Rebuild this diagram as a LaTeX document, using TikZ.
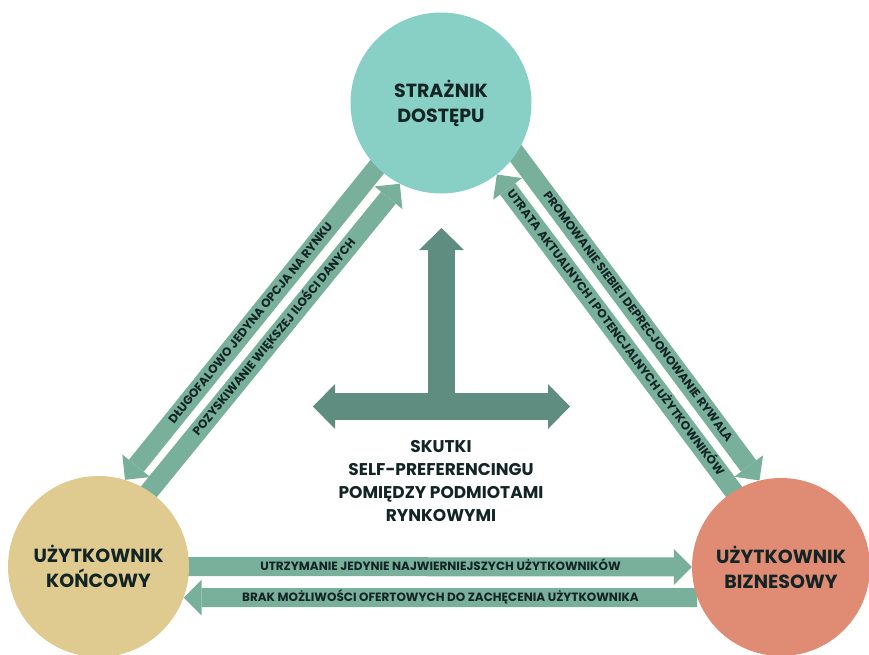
\documentclass[tikz,border=0pt]{standalone}
\usepackage{fontspec}
\setmainfont{Poppins}
\usetikzlibrary{arrows.meta,backgrounds}

\definecolor{gatecol}{HTML}{88CFC6}
\definecolor{endcol}{HTML}{DFCB8F}
\definecolor{bizcol}{HTML}{E08B74}
\definecolor{flowcol}{HTML}{78B09B}
\definecolor{hubcol}{HTML}{5F8D80}
\definecolor{inkcol}{HTML}{132424}

\tikzset{
  party/.style={circle, inner sep=0pt, align=center, text=inkcol,
    font=\fontsize{19}{25}\selectfont\bfseries},
  flowtip/.tip={Triangle[width=36pt,length=18pt,line width=0pt]},
  flow/.style={draw=flowcol, line width=19pt, -flowtip},
  flowtext/.style={sloped, text=inkcol, inner sep=0pt, text height=.7em, text depth=0pt,
    font=\fontsize{12}{12}\selectfont\bfseries},
  hubtip/.tip={Triangle[width=45pt,length=22pt,line width=0pt]},
  hub/.style={draw=hubcol, line width=27pt},
  hubtext/.style={align=center, text=inkcol, font=\fontsize{17}{23}\selectfont\bfseries}
}

\begin{document}
\begin{tikzpicture}[x=1pt,y=-1pt]
\useasboundingbox (0,0) rectangle (869,654);

% the three market parties
\node[party, fill=gatecol, minimum size=181pt] (gate) at (441,103) {STRAŻNIK\\DOSTĘPU};
\node[party, fill=endcol, minimum size=181pt] (endu) at (98.5,566.5) {UŻYTKOWNIK\\KOŃCOWY};
\node[party, fill=bizcol, minimum size=178pt] (biz) at (781,567) {UŻYTKOWNIK\\BIZNESOWY};

% central T-shaped arrow and its caption
\coordinate (hubL) at (313,406.5);
\coordinate (hubR) at (570,406.5);
\coordinate (hubC) at (441.5,406.5);
\coordinate (hubT) at (441.5,228);
\draw[hub, hubtip-hubtip] (hubL) -- (hubR);
\draw[hub, -hubtip] (hubC) -- (hubT);
\node[hubtext] (effects) at (441,481)
  {SKUTKI\\SELF-PREFERENCINGU\\POMIĘDZY PODMIOTAMI\\RYNKOWYMI};

% effects between the parties, drawn beneath the circles
\begin{pgfonlayer}{background}
\draw[flow, shorten <=-12pt] (gate.225) -- node[flowtext]{DŁUGOFALOWO JEDYNA OPCJA NA RYNKU} (endu.73);
\draw[flow, shorten <=-12pt] (endu.56) -- node[flowtext]{POZYSKIWANIE WIĘKSZEJ ILOŚCI DANYCH} (gate.243);
\draw[flow, shorten <=-12pt] (gate.-34) -- node[flowtext]{PROMOWANIE SIEBIE I DEPRECJONOWANIE RYWALA} (biz.104);
\draw[flow, shorten <=-12pt] (biz.122) -- node[flowtext]{UTRATA AKTUALNYCH I POTENCJALNYCH UŻYTKOWNIKÓW} (gate.-52);
\draw[flow, shorten <=-12pt] (endu.0) -- node[flowtext]{UTRZYMANIE JEDYNIE NAJWIERNIEJSZYCH UŻYTKOWNIKÓW} (biz.180);
\draw[flow] (biz.200) -- node[flowtext]{BRAK MOŻLIWOŚCI OFERTOWYCH DO ZACHĘCENIA UŻYTKOWNIKA} (endu.-20);
\end{pgfonlayer}
\end{tikzpicture}
\end{document}
